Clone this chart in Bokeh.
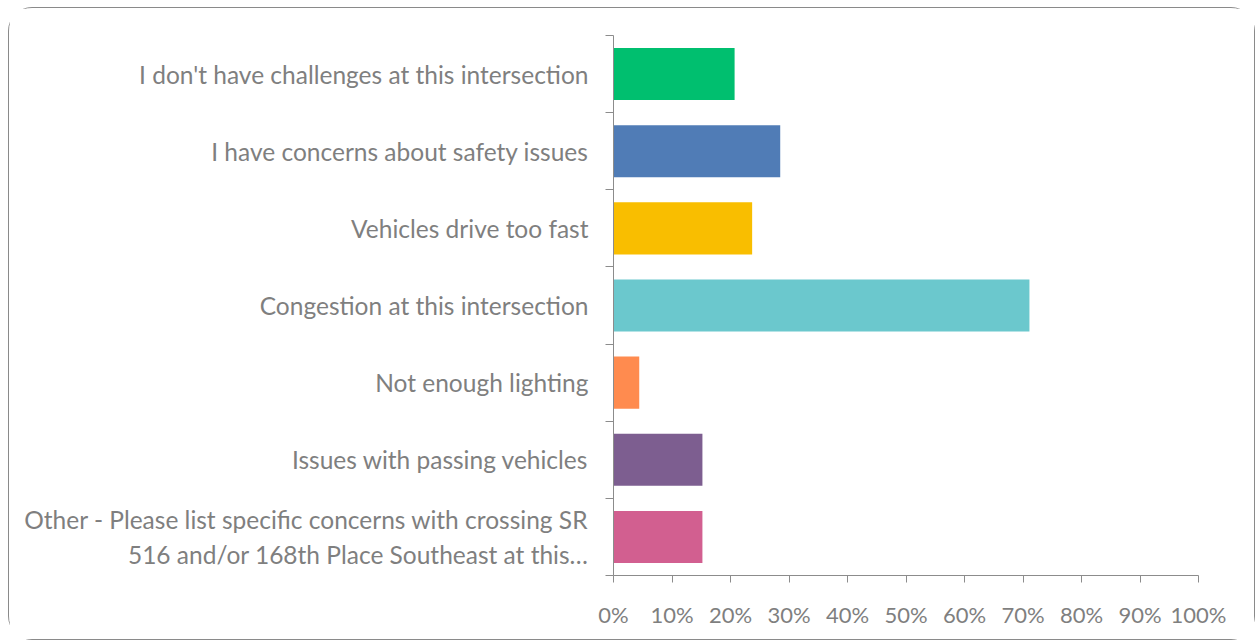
from bokeh.plotting import figure
from bokeh.models import ColumnDataSource, FixedTicker, Range1d
from bokeh.embed import file_html
from bokeh.resources import INLINE

categories = [
    "I don't have challenges at this intersection",
    "I have concerns about safety issues",
    "Vehicles drive too fast",
    "Congestion at this intersection",
    "Not enough lighting",
    "Issues with passing vehicles",
    "Other - Please list specific concerns with crossing SR\n516 and/or 168th Place Southeast at this\u2026",
]
values = [0.207, 0.285, 0.237, 0.711, 0.044, 0.152, 0.152]
colors = ["#00BF6F", "#507CB6", "#F9BE00", "#6BC8CD", "#FF8B4F", "#7D5E90", "#D25F90"]
x_ticks = [i / 10 for i in range(11)]
x_tick_labels = [f"{i * 10}%" for i in range(11)]

n = len(categories)
ypos = [n - 1 - i + 0.5 for i in range(n)]

src = ColumnDataSource(dict(y=ypos, v=values, c=colors, cat=categories))

FONT = "Lato"
GRAY = "#7F7F7F"
AXIS = "#8C8C8C"
LABEL_SIZE = "24.5px"

p = figure(width=1247, height=633, output_backend="svg", toolbar_location=None,
           x_range=Range1d(0, 1), y_range=Range1d(0, n),
           min_border_left=604, min_border_right=58, min_border_top=27, min_border_bottom=66)
p.styles = {"border": "1px solid #8A8A8A", "border-radius": "24px",
            "margin-left": "8px", "margin-top": "7px"}
p.outline_line_color = None
p.grid.grid_line_color = None

p.hbar(y="y", left=0, right="v", height=0.675, color="c", line_color=None, source=src)

# x axis
p.xaxis.ticker = FixedTicker(ticks=x_ticks)
p.xaxis.major_label_overrides = {t: l for t, l in zip(x_ticks, x_tick_labels)}
p.xaxis.axis_line_color = AXIS
p.xaxis.major_tick_line_color = AXIS
p.xaxis.major_tick_out = 7
p.xaxis.major_tick_in = 0
p.xaxis.minor_tick_line_color = None
p.xaxis.major_label_text_font = FONT
p.xaxis.major_label_text_font_size = "22px"
p.xaxis.major_label_text_color = GRAY
p.xaxis.major_label_standoff = 18

# y axis: labels at category centres, tick marks between categories
p.yaxis.ticker = FixedTicker(ticks=ypos, minor_ticks=list(range(n + 1)))
p.yaxis.major_label_overrides = {y: c for y, c in zip(ypos, categories)}
p.yaxis.axis_line_color = AXIS
p.yaxis.major_tick_line_color = None
p.yaxis.major_tick_out = 0
p.yaxis.minor_tick_line_color = AXIS
p.yaxis.minor_tick_out = 8
p.yaxis.minor_tick_in = 0
p.yaxis.major_label_text_font = FONT
p.yaxis.major_label_text_font_size = LABEL_SIZE
p.yaxis.major_label_text_color = GRAY
p.yaxis.major_label_standoff = 17

open("out.html", "w").write(file_html(p, INLINE))
